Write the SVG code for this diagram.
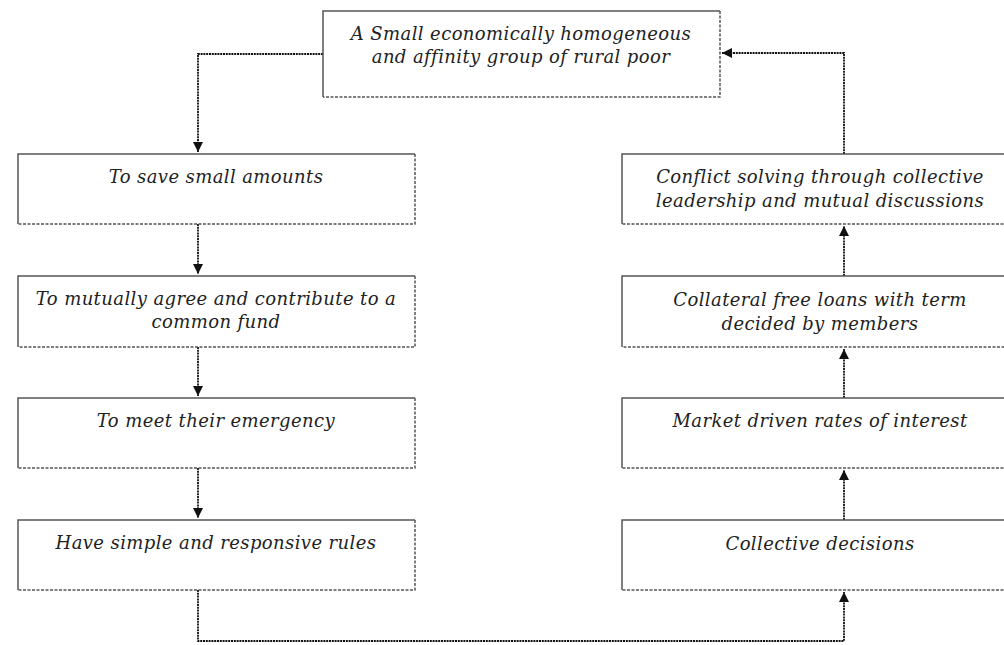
<svg xmlns="http://www.w3.org/2000/svg" width="1004" height="645" viewBox="0 0 1004 645">
<style>
.bg{fill:#ffffff;stroke:none}
.tl{fill:none;stroke:#555;stroke-width:1.5}
.br{fill:none;stroke:#555;stroke-width:1.5;stroke-dasharray:3 1.5}
.t{font-family:"DejaVu Serif","Liberation Serif",serif;font-style:italic;font-size:18px;letter-spacing:0.4px;fill:#222;text-anchor:middle}
.c{fill:none;stroke:#111;stroke-width:1.8;stroke-dasharray:2 0.8}
</style>
<defs>
<marker id="ah" viewBox="0 0 10 10" refX="10" refY="5" markerWidth="10" markerHeight="10" markerUnits="userSpaceOnUse" orient="auto">
<path d="M0,0 L10,5 L0,10 z" fill="#111"/>
</marker>
</defs>
<rect width="1004" height="645" fill="#fff"/>
<g id="connectors">
<path class="c" d="M323,54 H198 V152" marker-end="url(#ah)"/>
<path class="c" d="M198,224 V274" marker-end="url(#ah)"/>
<path class="c" d="M198,347 V396" marker-end="url(#ah)"/>
<path class="c" d="M198,468 V518" marker-end="url(#ah)"/>
<path class="c" d="M198,590 V641 H844 V592" marker-end="url(#ah)"/>
<path class="c" d="M844,520 V470" marker-end="url(#ah)"/>
<path class="c" d="M844,398 V349" marker-end="url(#ah)"/>
<path class="c" d="M844,276 V226" marker-end="url(#ah)"/>
<path class="c" d="M844,154 V53 H722" marker-end="url(#ah)"/>
</g>
<g id="top">
<rect class="bg" x="323" y="11" width="397" height="86"/>
<path class="tl" d="M323,97 V11 H720"/>
<path class="br" d="M720,11 V97 H323"/>
<text class="t" x="521" y="40">A Small economically homogeneous</text>
<text class="t" x="521" y="63">and affinity group of rural poor</text>
</g>
<g id="save">
<rect class="bg" x="18" y="154" width="397" height="70"/>
<path class="tl" d="M18,224 V154 H415"/>
<path class="br" d="M415,154 V224 H18"/>
<text class="t" x="216" y="183">To save small amounts</text>
</g>
<g id="agree">
<rect class="bg" x="18" y="276" width="397" height="71"/>
<path class="tl" d="M18,347 V276 H415"/>
<path class="br" d="M415,276 V347 H18"/>
<text class="t" x="216" y="305">To mutually agree and contribute to a</text>
<text class="t" x="216" y="328">common fund</text>
</g>
<g id="emergency">
<rect class="bg" x="18" y="398" width="397" height="70"/>
<path class="tl" d="M18,468 V398 H415"/>
<path class="br" d="M415,398 V468 H18"/>
<text class="t" x="216" y="427">To meet their emergency</text>
</g>
<g id="rules">
<rect class="bg" x="18" y="520" width="397" height="70"/>
<path class="tl" d="M18,590 V520 H415"/>
<path class="br" d="M415,520 V590 H18"/>
<text class="t" x="216" y="549">Have simple and responsive rules</text>
</g>
<g id="conflict">
<rect class="bg" x="622" y="154" width="397" height="70"/>
<path class="tl" d="M622,224 V154 H1019"/>
<path class="br" d="M1019,154 V224 H622"/>
<text class="t" x="820" y="183">Conflict solving through collective</text>
<text class="t" x="820" y="207">leadership and mutual discussions</text>
</g>
<g id="collateral">
<rect class="bg" x="622" y="276" width="397" height="71"/>
<path class="tl" d="M622,347 V276 H1019"/>
<path class="br" d="M1019,276 V347 H622"/>
<text class="t" x="820" y="306">Collateral free loans with term</text>
<text class="t" x="820" y="330">decided by members</text>
</g>
<g id="market">
<rect class="bg" x="622" y="398" width="397" height="70"/>
<path class="tl" d="M622,468 V398 H1019"/>
<path class="br" d="M1019,398 V468 H622"/>
<text class="t" x="820" y="427">Market driven rates of interest</text>
</g>
<g id="collective">
<rect class="bg" x="622" y="520" width="397" height="70"/>
<path class="tl" d="M622,590 V520 H1019"/>
<path class="br" d="M1019,520 V590 H622"/>
<text class="t" x="820" y="550">Collective decisions</text>
</g>
</svg>
